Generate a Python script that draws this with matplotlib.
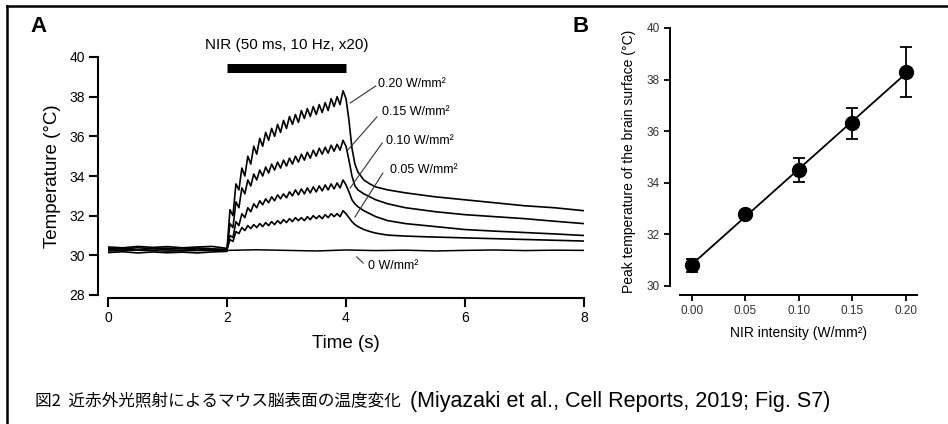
import numpy as np
import matplotlib.pyplot as plt
from matplotlib.lines import Line2D

plt.rcParams['font.family'] = ['Liberation Sans', 'DejaVu Sans']

# ---------------- Panel A : temperature traces ----------------
t_base = [0.0, 0.25, 0.5, 0.75, 1.0, 1.25, 1.5, 1.75, 2.0]
t_stim = [2.00, 2.05, 2.10, 2.15, 2.20, 2.25, 2.30, 2.35, 2.40, 2.45,
          2.50, 2.55, 2.60, 2.65, 2.70, 2.75, 2.80, 2.85, 2.90, 2.95,
          3.00, 3.05, 3.10, 3.15, 3.20, 3.25, 3.30, 3.35, 3.40, 3.45,
          3.50, 3.55, 3.60, 3.65, 3.70, 3.75, 3.80, 3.85, 3.90, 3.95, 4.00]
t_decay = [4.05, 4.1, 4.15, 4.2, 4.3, 4.4, 4.5, 4.7, 5.0, 5.5, 6.0, 6.5, 7.0, 7.5, 8.0]

base_020 = [30.42, 30.38, 30.45, 30.40, 30.44, 30.38, 30.42, 30.45, 30.35]
stim_020 = [30.3, 32.3, 32.0, 33.6, 33.3, 34.4, 34.0, 35.0, 34.6, 35.5,
            35.1, 35.9, 35.5, 36.2, 35.8, 36.4, 36.0, 36.6, 36.2, 36.8,
            36.4, 37.0, 36.6, 37.1, 36.7, 37.3, 36.9, 37.4, 37.0, 37.5,
            37.1, 37.6, 37.2, 37.7, 37.3, 37.9, 37.5, 38.0, 37.6, 38.3, 37.9]
decay_020 = [36.8, 35.4, 34.6, 34.2, 33.8, 33.6, 33.45, 33.3, 33.15, 32.95,
             32.8, 32.65, 32.5, 32.4, 32.25]

base_015 = [30.28, 30.32, 30.26, 30.33, 30.28, 30.25, 30.32, 30.27, 30.30]
stim_015 = [30.3, 31.6, 31.4, 32.7, 32.4, 33.4, 33.1, 33.8, 33.5, 34.1,
            33.8, 34.3, 34.0, 34.45, 34.15, 34.6, 34.3, 34.7, 34.4, 34.8,
            34.5, 34.9, 34.6, 35.0, 34.7, 35.1, 34.8, 35.2, 34.9, 35.3,
            35.0, 35.4, 35.1, 35.45, 35.15, 35.55, 35.25, 35.6, 35.3, 35.8, 35.5]
decay_015 = [34.8, 34.0, 33.5, 33.3, 33.1, 32.95, 32.8, 32.6, 32.4, 32.2,
             32.05, 31.95, 31.85, 31.72, 31.6]

base_010 = [30.36, 30.33, 30.38, 30.34, 30.36, 30.32, 30.37, 30.33, 30.30]
stim_010 = [30.3, 31.0, 30.9, 31.7, 31.5, 32.1, 31.9, 32.4, 32.2, 32.6,
            32.4, 32.75, 32.55, 32.85, 32.65, 32.95, 32.75, 33.05, 32.85, 33.1,
            32.9, 33.2, 33.0, 33.3, 33.05, 33.35, 33.1, 33.4, 33.15, 33.45,
            33.2, 33.5, 33.25, 33.55, 33.3, 33.6, 33.35, 33.65, 33.4, 33.8, 33.55]
decay_010 = [33.2, 32.8, 32.6, 32.45, 32.25, 32.1, 31.95, 31.75, 31.6, 31.45,
             31.3, 31.22, 31.15, 31.08, 31.0]

base_005 = [30.14, 30.18, 30.12, 30.17, 30.13, 30.16, 30.12, 30.17, 30.20]
stim_005 = [30.3, 30.8, 30.7, 31.2, 31.1, 31.4, 31.25, 31.5, 31.35, 31.55,
            31.4, 31.6, 31.45, 31.65, 31.5, 31.7, 31.55, 31.75, 31.6, 31.8,
            31.65, 31.85, 31.7, 31.9, 31.75, 31.9, 31.75, 31.95, 31.8, 32.0,
            31.85, 32.0, 31.85, 32.05, 31.9, 32.1, 31.95, 32.1, 31.95, 32.25, 32.1]
decay_005 = [31.9, 31.7, 31.55, 31.45, 31.3, 31.2, 31.12, 31.02, 30.97, 30.92,
             30.88, 30.84, 30.8, 30.76, 30.72]

t_zero = [0.0, 0.5, 1.0, 1.5, 2.0, 2.5, 3.0, 3.5, 4.0, 4.5, 5.0, 5.5, 6.0, 6.5, 7.0, 7.5, 8.0]
temp_zero = [30.22, 30.26, 30.21, 30.24, 30.25, 30.28, 30.25, 30.22, 30.27, 30.24,
             30.26, 30.22, 30.25, 30.27, 30.24, 30.26, 30.25]

# ---------------- Panel B : peak temperature ----------------
nir = [0.00, 0.05, 0.10, 0.15, 0.20]
peak = [30.8, 32.8, 34.5, 36.3, 38.3]
peak_err = [0.25, 0.12, 0.48, 0.6, 0.97]

fig = plt.figure(figsize=(9.48, 4.24), dpi=100)

# frame around figure (only top and left edges visible)
fig.add_artist(Line2D([7/948, 1.0], [1 - 6/424, 1 - 6/424], color='black', lw=1.8))
fig.add_artist(Line2D([7/948, 7/948], [0.0, 1 - 6/424], color='black', lw=1.8))

# ===== panel A =====
axA = fig.add_axes([108/948, 1 - 295/424, 476/948, 238/424])
traces = [(base_020, stim_020, decay_020), (base_015, stim_015, decay_015),
          (base_010, stim_010, decay_010), (base_005, stim_005, decay_005)]
for b, s, d in traces:
    axA.plot(t_base + t_stim + t_decay, b + s + d, color='black', lw=1.2)
axA.plot(t_zero, temp_zero, color='black', lw=1.1)

axA.set_xlim(0, 8)
axA.set_ylim(28, 40)
axA.set_xticks([0, 2, 4, 6, 8])
axA.set_yticks([28, 30, 32, 34, 36, 38, 40])
for side in ['top', 'right']:
    axA.spines[side].set_visible(False)
axA.spines['left'].set_position(('outward', 7))
axA.spines['bottom'].set_position(('outward', 2))
for side in ['left', 'bottom']:
    axA.spines[side].set_linewidth(1.5)
axA.tick_params(direction='out', length=6.5, width=1.5, labelsize=10, pad=3)
axA.set_xlabel('Time (s)', fontsize=13.5, labelpad=7)
axA.set_ylabel('Temperature (°C)', fontsize=13.5, labelpad=6)

# stimulus bar
axA.plot([2, 4], [39.47, 39.47], color='black', lw=6.5, solid_capstyle='butt', clip_on=False)
axA.text(3.0, 40.6, 'NIR (50 ms, 10 Hz, x20)', ha='center', va='center', fontsize=11)

# trace labels with leader lines
labels = ['0.20 W/mm²', '0.15 W/mm²', '0.10 W/mm²', '0.05 W/mm²', '0 W/mm²']
leaders = [((4.07, 37.68), (4.50, 38.54)), ((4.03, 35.31), (4.52, 36.98)),
           ((4.07, 33.40), (4.61, 35.67)), ((4.15, 31.93), (4.62, 34.15)),
           ((4.18, 29.92), (4.29, 29.61))]
text_pos = [(4.54, 38.64), (4.61, 37.23), (4.67, 35.77), (4.74, 34.30), (4.37, 29.46)]
for lab, (p0, p1), (tx, ty) in zip(labels, leaders, text_pos):
    axA.plot([p0[0], p1[0]], [p0[1], p1[1]], color='#333333', lw=0.8)
    axA.text(tx, ty, lab, ha='left', va='center', fontsize=9)

# ===== panel B =====
axB = fig.add_axes([680/948, 1 - 295/424, 237/948, 267/424])
fit = np.polyfit(nir, peak, 1)
axB.plot([nir[0], nir[-1]], np.polyval(fit, [nir[0], nir[-1]]), color='black', lw=1.3)
axB.errorbar(nir, peak, yerr=peak_err, fmt='o', color='black', ms=10,
             capsize=4, elinewidth=1.3, capthick=1.3)
axB.set_xlim(-0.0112, 0.2103)
axB.set_ylim(29.65, 40)
axB.set_xticks(nir)
axB.set_xticklabels(['0.00', '0.05', '0.10', '0.15', '0.20'])
axB.set_yticks([30, 32, 34, 36, 38, 40])
for side in ['top', 'right']:
    axB.spines[side].set_visible(False)
axB.spines['left'].set_position(('outward', 7))
axB.spines['left'].set_bounds(30, 40)
for side in ['left', 'bottom']:
    axB.spines[side].set_linewidth(1.4)
axB.tick_params(direction='out', length=4.5, width=1.3, labelsize=8.5, pad=3,
                labelcolor='#333333')
axB.set_xlabel('NIR intensity (W/mm²)', fontsize=10, labelpad=6)
axB.set_ylabel('Peak temperature of the brain surface (°C)', fontsize=10, labelpad=8)

# panel letters
fig.text(30/948, 1 - 26/424, 'A', fontsize=16, fontweight='bold', va='center', ha='left')
fig.text(572/948, 1 - 26/424, 'B', fontsize=16, fontweight='bold', va='center', ha='left')

# caption
fig.text(35/948, 1 - 401/424, '図2  近赤外光照射によるマウス脳表面の温度変化',
         fontsize=12, family=['Noto Sans CJK JP'], va='center', ha='left')
fig.text(410/948, 1 - 401/424, '(Miyazaki et al., Cell Reports, 2019; Fig. S7)',
         fontsize=15.5, va='center', ha='left')

fig.savefig('out.png', dpi=100)
